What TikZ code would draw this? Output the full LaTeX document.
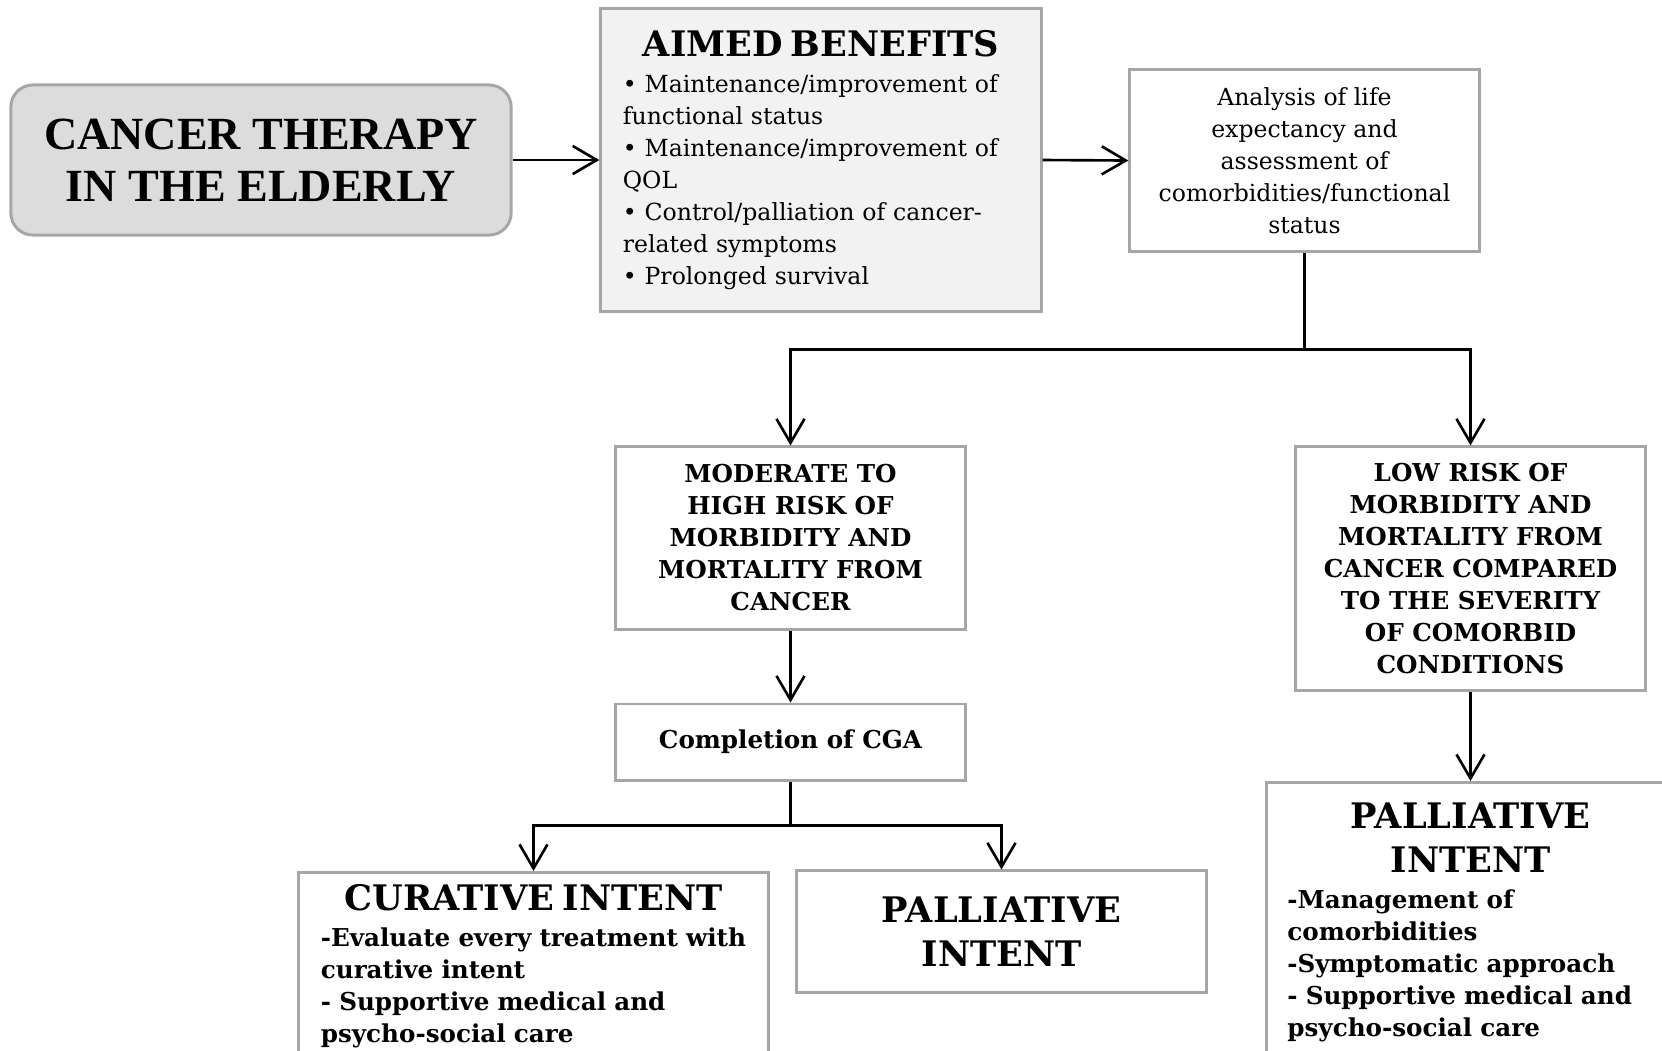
\documentclass[tikz,border=0pt]{standalone}
\usepackage{fontspec}
\setmainfont{DejaVu Serif}
\newfontfamily\headfont{Liberation Serif}
\usetikzlibrary{arrows.meta,positioning}
\definecolor{boxgray}{HTML}{A6A6A6}
\definecolor{startfill}{HTML}{DCDCDC}
\definecolor{aimfill}{HTML}{F2F2F2}
\newcommand{\bodysize}{\fontsize{6.7}{9.1}\selectfont}
\newcommand{\boldsize}{\fontsize{7}{9.1}\selectfont\bfseries}
\newcommand{\headsize}{\fontsize{10}{12.7}\selectfont\bfseries}

\tikzset{
  box/.style={draw=boxgray, line width=0.85pt, fill=white, align=center, inner sep=0pt, font=\bodysize},
  riskbox/.style={box, font=\boldsize},
  link/.style={line width=0.75pt, black},
  arr/.style={link, -{Straight Barb[length=2.4mm, width=2.8mm, line width=0.75pt]}}
}

\begin{document}
\begin{tikzpicture}[x=0.01cm, y=-0.01cm]
		\clip (0,0) rectangle (1662,1050);
		% top row
		\node[box, fill=startfill, rounded corners=0.22cm, minimum width=5cm, minimum height=1.5cm,
		      font=\fontsize{13.1}{14.8}\selectfont\headfont\bfseries] (therapy) at (261,160)
		      {CANCER THERAPY\\IN THE ELDERLY};
		\node[box, fill=aimfill, minimum width=4.4cm, minimum height=3.03cm, text width=3.96cm, align=left] (aimed) at (821,160)
		      {\makebox[\linewidth]{\headsize AIMED BENEFITS}\\[1pt]
		       • Maintenance/improvement of\\ functional status\\
		       • Maintenance/improvement of\\ QOL\\
		       • Control/palliation of cancer-\\ related symptoms\\
		       • Prolonged survival};
		\node[box, minimum width=3.49cm, minimum height=1.81cm] (analysis) at (1304.5,160.5)
		      {Analysis of life\\expectancy and\\assessment of\\comorbidities/functional\\status};
		% risk groups
		\node[riskbox, minimum width=3.49cm, minimum height=1.82cm] (moderate) at (790.5,538)
		      {MODERATE TO\\HIGH RISK OF\\MORBIDITY AND\\MORTALITY FROM\\CANCER};
		\node[riskbox, minimum width=3.49cm, minimum height=2.43cm] (lowrisk) at (1470.5,568.5)
		      {LOW RISK OF\\MORBIDITY AND\\MORTALITY FROM\\CANCER COMPARED\\TO THE SEVERITY\\OF COMORBID\\CONDITIONS};
		\node[riskbox, minimum width=3.49cm, minimum height=0.76cm] (completion) at (790.5,742)
		      {Completion of CGA};
		% intents
		\node[riskbox, anchor=north, text width=4.25cm, minimum width=4.69cm, inner ysep=0.12cm, text depth=2cm, align=left] (curative) at (533.5,871)
		      {\makebox[\linewidth]{\headsize CURATIVE INTENT}\\[1pt]
		       -Evaluate every treatment with\\ curative intent\\
		       - Supportive medical and\\ psycho-social care};
		\node[box, minimum width=4.09cm, minimum height=1.21cm, font=\headsize] (palmid) at (1001.5,931.5)
		      {PALLIATIVE\\INTENT};
		\node[riskbox, anchor=north, text width=3.66cm, minimum width=4.08cm, inner ysep=0.2cm, text depth=2.8cm, align=left] (palright) at (1470.5,781)
		      {\makebox[\linewidth]{\headsize PALLIATIVE}\\[3.6pt]
		       \makebox[\linewidth]{\headsize INTENT}\\[1pt]
		       -Management of\\ comorbidities\\
		       -Symptomatic approach\\
		       - Supportive medical and\\ psycho-social care};
		% connectors
		\draw[arr] (therapy.east) -- (aimed.west);
		\draw[arr] (aimed.east) -- (analysis.west);
		\coordinate[below=0.97cm of analysis.south] (fork1);
		\draw[link] (analysis.south) -- (fork1);
		\draw[arr] (fork1) -| (moderate.north);
		\draw[arr] (fork1) -| (lowrisk.north);
		\draw[arr] (moderate.south) -- (completion.north);
		\coordinate[below=0.44cm of completion.south] (fork2);
		\draw[link] (completion.south) -- (fork2);
		\draw[arr] (fork2) -| (curative.north);
		\draw[arr] (fork2) -| (palmid.north);
		\draw[arr] (lowrisk.south) -- (palright.north);
\end{tikzpicture}
\end{document}
